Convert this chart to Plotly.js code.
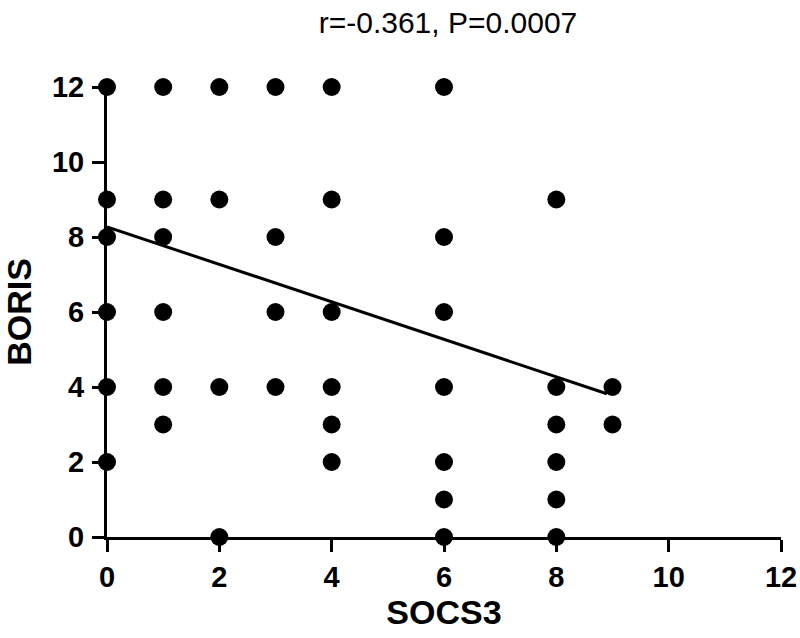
<!DOCTYPE html>
<html>
<head>
<meta charset="utf-8">
<script src="https://cdn.plot.ly/plotly-3.0.1.min.js"></script>
<style>html,body{margin:0;padding:0;background:#fff;}#chart{width:800px;height:638px;}</style>
</head>
<body>
<div id="chart"></div>
<script>
// SOCS3 score (x) and BORIS score (y) for each sample
const socs3 = [0,0,0,0,0,0, 1,1,1,1,1,1, 2,2,2,2, 3,3,3,3, 4,4,4,4,4,4, 6,6,6,6,6,6,6, 8,8,8,8,8,8, 9,9];
const boris = [12,9,8,6,4,2, 12,9,8,6,4,3, 12,9,4,0, 12,8,6,4, 12,9,6,4,3,2, 12,8,6,4,2,1,0, 9,4,3,2,1,0, 4,3];
// Regression line endpoints
const fitX = [0, 8.9];
const fitY = [8.27, 3.82];
const tickVals = [0, 2, 4, 6, 8, 10, 12];
const titleText = "r=-0.361, P=0.0007";

const data = [
  {x: socs3, y: boris, type: 'scatter', mode: 'markers', cliponaxis: false,
   marker: {color: '#000', size: 18}, hoverinfo: 'skip'},
  {x: fitX, y: fitY, type: 'scatter', mode: 'lines', cliponaxis: false,
   line: {color: '#000', width: 3}, hoverinfo: 'skip'}
];
const tickFont = {family: 'Liberation Sans, Arial, sans-serif', size: 29, color: '#000', weight: 'bold'};
const axisCommon = {
  range: [0, 12], tickvals: tickVals, ticktext: tickVals.map(String),
  showgrid: false, zeroline: false, showline: true, linecolor: '#000', linewidth: 3,
  ticks: 'outside', ticklen: 12, tickwidth: 3, tickcolor: '#000',
  tickfont: tickFont, fixedrange: true
};
const layout = {
  width: 800, height: 638,
  margin: {l: 107, r: 19, t: 87, b: 101},
  paper_bgcolor: '#fff', plot_bgcolor: '#fff',
  showlegend: false,
  title: {text: titleText, x: 0.56, xanchor: 'center', y: 0.965, yanchor: 'middle',
          font: {family: 'Liberation Sans, Arial, sans-serif', size: 30, color: '#000'}},
  xaxis: Object.assign({}, axisCommon, {
    title: {text: 'SOCS3', standoff: 8, font: {family: 'Liberation Sans, Arial, sans-serif', size: 34, color: '#000', weight: 'bold'}}
  }),
  yaxis: Object.assign({}, axisCommon, {
    ticklabelstandoff: 2,
    title: {text: 'BORIS', standoff: 12, font: {family: 'Liberation Sans, Arial, sans-serif', size: 34, color: '#000', weight: 'bold'}}
  })
};
Plotly.newPlot('chart', data, layout, {displayModeBar: false, staticPlot: true});
</script>
</body>
</html>
